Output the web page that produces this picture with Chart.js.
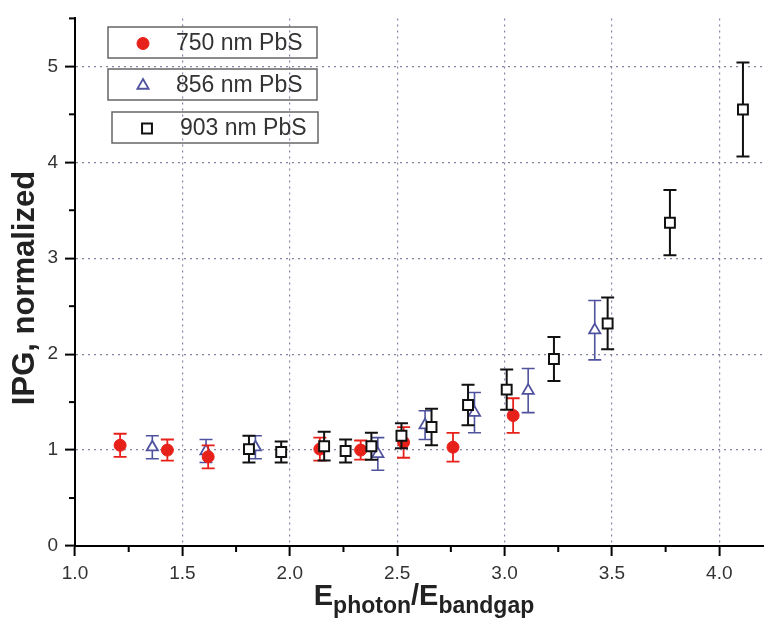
<!DOCTYPE html>
<html>
<head>
<meta charset="utf-8">
<script src="https://cdn.jsdelivr.net/npm/chart.js@4.4.0/dist/chart.umd.min.js"></script>
<style>
  html, body { margin: 0; padding: 0; background: #fff; }
  #wrap { width: 764px; height: 623px; }
</style>
</head>
<body>
<div id="wrap"><canvas id="chart" width="764" height="623"></canvas></div>
<script>
// values: x = Ephoton/Ebandgap, y = normalized IPG, err = half error bar
const red750X = [1.21, 1.43, 1.62, 2.14, 2.33, 2.53, 2.76, 3.04];
const red750Y = [1.05, 1.00, 0.93, 1.01, 1.00, 1.08, 1.03, 1.36];
const red750Err = [0.12, 0.11, 0.12, 0.12, 0.10, 0.16, 0.15, 0.18];

const blue856X = [1.36, 1.61, 1.84, 2.41, 2.63, 2.86, 3.11, 3.42];
const blue856Y = [1.03, 0.99, 1.03, 0.96, 1.26, 1.39, 1.62, 2.25];
const blue856Err = [0.12, 0.12, 0.12, 0.17, 0.15, 0.21, 0.23, 0.31];

const black903X = [1.81, 1.96, 2.16, 2.26, 2.38, 2.52, 2.66, 2.83, 3.01, 3.23, 3.48, 3.77, 4.11];
const black903Y = [1.01, 0.98, 1.04, 0.99, 1.04, 1.15, 1.24, 1.47, 1.63, 1.95, 2.32, 3.37, 4.55];
const black903Err = [0.14, 0.11, 0.15, 0.12, 0.14, 0.13, 0.19, 0.21, 0.21, 0.23, 0.27, 0.34, 0.49];

const seriesLabels = ["750 nm PbS", "856 nm PbS", "903 nm PbS"];
const xTicks = [1.0, 1.5, 2.0, 2.5, 3.0, 3.5, 4.0];
const xMinor = [1.25, 1.75, 2.25, 2.75, 3.25, 3.75];
const yTicks = [0, 1, 2, 3, 4, 5];
const yMinor = [0.5, 1.5, 2.5, 3.5, 4.5, 5.5];

const FONT = "'Liberation Sans', Arial, sans-serif";
const gridColor = "rgba(115,110,150,0.85)";

function toPoints(xs, ys) {
  return xs.map((x, i) => ({ x: x, y: ys[i] }));
}

// vertical error bars with caps, drawn under each dataset's markers
const errorBars = {
  id: "errorBars",
  beforeDatasetDraw(chart, args) {
    const ds = chart.data.datasets[args.index];
    if (!ds.errors) return;
    const xs = chart.scales.x, ys = chart.scales.y;
    const ctx = chart.ctx;
    const cap = 6.5;
    ctx.save();
    ctx.strokeStyle = ds.borderColor;
    ctx.lineWidth = ds.errWidth;
    ds.data.forEach((p, i) => {
      const px = xs.getPixelForValue(p.x);
      const top = ys.getPixelForValue(p.y + ds.errors[i]);
      const bot = ys.getPixelForValue(p.y - ds.errors[i]);
      ctx.beginPath();
      ctx.moveTo(px, top); ctx.lineTo(px, bot);
      ctx.moveTo(px - cap, top); ctx.lineTo(px + cap, top);
      ctx.moveTo(px - cap, bot); ctx.lineTo(px + cap, bot);
      ctx.stroke();
    });
    ctx.restore();
  }
};

// minor ticks, axis titles and the boxed legend
const decorations = {
  id: "decorations",
  afterDraw(chart) {
    const ctx = chart.ctx;
    const xs = chart.scales.x, ys = chart.scales.y;
    const area = chart.chartArea;
    ctx.save();
    ctx.strokeStyle = "#000";
    ctx.lineWidth = 2;
    xMinor.forEach((v) => {
      const px = xs.getPixelForValue(v);
      ctx.beginPath();
      ctx.moveTo(px, area.bottom);
      ctx.lineTo(px, area.bottom + 6);
      ctx.stroke();
    });
    yMinor.forEach((v) => {
      const py = ys.getPixelForValue(v);
      ctx.beginPath();
      ctx.moveTo(area.left, py);
      ctx.lineTo(area.left - 6, py);
      ctx.stroke();
    });

    // y title
    ctx.fillStyle = "#222";
    ctx.font = "bold 31px " + FONT;
    ctx.textAlign = "center";
    ctx.textBaseline = "middle";
    ctx.save();
    ctx.translate(25, 288);
    ctx.rotate(-Math.PI / 2);
    ctx.fillText("IPG, normalized", 0, 0);
    ctx.restore();

    // x title with subscripts
    const parts = [
      { t: "E", big: true }, { t: "photon", big: false },
      { t: "/E", big: true }, { t: "bandgap", big: false }
    ];
    let total = 0;
    parts.forEach((p) => {
      ctx.font = "bold " + (p.big ? 29 : 23) + "px " + FONT;
      p.w = ctx.measureText(p.t).width;
      total += p.w;
    });
    let cx = 424 - total / 2;
    const base = 605;
    ctx.textAlign = "left";
    ctx.textBaseline = "alphabetic";
    parts.forEach((p) => {
      ctx.font = "bold " + (p.big ? 29 : 23) + "px " + FONT;
      ctx.fillText(p.t, cx, p.big ? base : base + 8);
      cx += p.w;
    });

    // legend: one box per series
    const boxes = [
      { x: 108, y: 27, w: 209, h: 31 },
      { x: 108, y: 69, w: 209, h: 31 },
      { x: 112, y: 112, w: 206, h: 31 }
    ];
    chart.data.datasets.forEach((ds, i) => {
      const b = boxes[i];
      ctx.lineWidth = 1.5;
      ctx.strokeStyle = "#666";
      ctx.strokeRect(b.x, b.y, b.w, b.h);
      ctx.fillStyle = ds.pointBackgroundColor;
      ctx.strokeStyle = ds.borderColor;
      ctx.lineWidth = ds.pointBorderWidth;
      Chart.helpers.drawPoint(ctx, {
        pointStyle: ds.pointStyle, radius: ds.pointRadius,
        borderWidth: ds.pointBorderWidth, rotation: 0
      }, b.x + 35, b.y + b.h / 2 + 1);
      ctx.fillStyle = "#333";
      ctx.font = "23px " + FONT;
      ctx.textAlign = "left";
      ctx.textBaseline = "middle";
      ctx.fillText(ds.label, b.x + 68, b.y + b.h / 2 + 1);
    });
    ctx.restore();
  }
};

const ctx = document.getElementById("chart").getContext("2d");
const chart = new Chart(ctx, {
  type: "scatter",
  data: {
    datasets: [
      {
        label: seriesLabels[0],
        data: toPoints(red750X, red750Y),
        errors: red750Err,
        errWidth: 1.8,
        pointStyle: "circle",
        pointRadius: 6,
        pointBorderWidth: 1,
        pointBackgroundColor: "#e8201a",
        borderColor: "#e8201a",
        order: 1
      },
      {
        label: seriesLabels[1],
        data: toPoints(blue856X, blue856Y),
        errors: blue856Err,
        errWidth: 1.6,
        pointStyle: "triangle",
        pointRadius: 6.5,
        pointBorderWidth: 1.8,
        pointBackgroundColor: "#ffffff",
        borderColor: "#4f539e",
        order: 2
      },
      {
        label: seriesLabels[2],
        data: toPoints(black903X, black903Y),
        errors: black903Err,
        errWidth: 2,
        pointStyle: "rect",
        pointRadius: 7,
        pointBorderWidth: 2,
        pointBackgroundColor: "#ffffff",
        borderColor: "#111111",
        order: 0
      }
    ]
  },
  options: {
    responsive: false,
    animation: false,
    devicePixelRatio: 1,
    layout: { autoPadding: false, padding: { top: 13, left: 0, right: 0, bottom: 0 } },
    plugins: { legend: { display: false }, tooltip: { enabled: false } },
    scales: {
      x: {
        type: "linear",
        min: 1.0,
        max: 4.208,
        afterBuildTicks: (s) => { s.ticks = xTicks.map((v) => ({ value: v })); },
        afterFit: (s) => { s.height = 77; },
        ticks: {
          font: { size: 19, family: FONT },
          color: "#333",
          padding: 6,
          maxRotation: 0,
          callback: (v) => Number(v).toFixed(1)
        },
        grid: {
          color: (c) => (c.tick && c.tick.value > 1.0 ? gridColor : "transparent"),
          lineWidth: 1.2,
          tickColor: "#000",
          tickLength: 10,
          tickWidth: 2
        },
        border: { color: "#000", width: 2, dash: [2, 4] }
      },
      y: {
        type: "linear",
        min: 0,
        max: 5.5,
        afterBuildTicks: (s) => { s.ticks = yTicks.map((v) => ({ value: v })); },
        afterFit: (s) => { s.width = 75; },
        ticks: {
          font: { size: 19, family: FONT },
          color: "#333",
          padding: 7,
          callback: (v) => String(v)
        },
        grid: {
          color: (c) => (c.tick && c.tick.value > 0 ? gridColor : "transparent"),
          lineWidth: 1.2,
          tickColor: "#000",
          tickLength: 10,
          tickWidth: 2
        },
        border: { color: "#000", width: 2, dash: [2, 4] }
      }
    }
  },
  plugins: [errorBars, decorations]
});
</script>
</body>
</html>
